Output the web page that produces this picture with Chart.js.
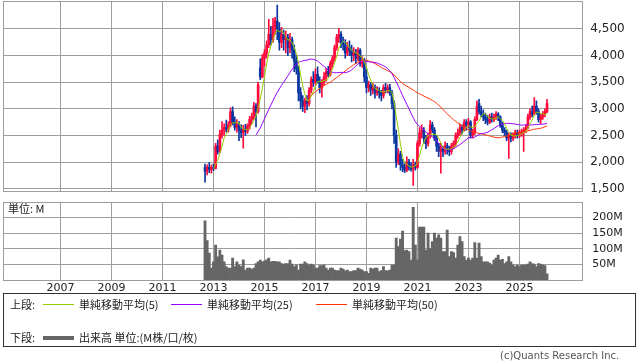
<!DOCTYPE html>
<html><head><meta charset="utf-8">
<script src="https://cdn.jsdelivr.net/npm/chart.js@4/dist/chart.umd.min.js"></script>
<style>
html,body{margin:0;padding:0;background:#fff;}
#wrap{position:relative;width:638px;height:362px;overflow:hidden;background:#fff;font-family:"DejaVu Sans","Noto Sans CJK JP",sans-serif;color:#222;}
canvas{position:absolute;left:0;}
#price{top:0;}
#vol{top:195px;}
.unit{position:absolute;left:8px;top:202px;font-size:11px;line-height:13px;font-family:"Noto Sans CJK JP","DejaVu Sans",sans-serif;color:#222;}
.legend{position:absolute;left:3px;top:293px;width:633px;height:54px;border:1px solid #333;box-sizing:border-box;font-family:"Noto Sans CJK JP",sans-serif;font-size:11px;color:#222;}
.row{position:absolute;left:0;height:14px;line-height:14px;white-space:nowrap;}
.row span{position:absolute;top:0;}
.ln{position:absolute;height:1px;}
.copy{position:absolute;left:500px;top:350px;font-size:10px;color:#555;font-family:"DejaVu Sans",sans-serif;}
</style></head>
<body><div id="wrap">
<canvas id="price" width="638" height="195"></canvas>
<canvas id="vol" width="638" height="100"></canvas>
<div class="unit">単位: M</div>
<div class="legend">
  <div class="row" style="top:3px;width:630px">
    <span style="left:6px">上段:</span>
    <div class="ln" style="left:39px;width:31px;top:7px;background:#99cc00"></div>
    <span style="left:75px">単純移動平均(5)</span>
    <div class="ln" style="left:167px;width:31px;top:7px;background:#9900ff"></div>
    <span style="left:203px">単純移動平均(25)</span>
    <div class="ln" style="left:312px;width:31px;top:7px;background:#ff3300"></div>
    <span style="left:348px">単純移動平均(50)</span>
  </div>
  <div class="row" style="top:36px;width:630px">
    <span style="left:6px">下段:</span>
    <div class="ln" style="left:39px;width:31px;top:6px;height:4px;background:#666"></div>
    <span style="left:75px">出来高 単位:(M株/口/枚)</span>
  </div>
</div>
<div class="copy">(c)Quants Research Inc.</div>
</div>
<script>
// ---- Data (monthly, first bar = 2012-09) ----
const firstYear = 2012, firstMonth = 9;
const opens  = [1900,1830,1900,1860,1900,1880,2300,2200,2520,2600,2650,2620,2700,2950,2760,2650,2700,2600,2550,2620,2580,2680,2800,2850,3050,2950,3770,3600,3950,4050,
  4200,4400,4300,4550,4650,4500,4250,4400,4300,4350,4150,4300,4100,3900,3750,3300,3150,3050,3150,3100,3350,3550,3500,3650,3500,3400,3500,3600,3700,3650,
  3850,3950,4150,4350,4400,4250,4200,4050,4150,4100,4000,4050,3950,4100,3850,3900,3600,3400,3450,3350,3400,3300,3350,3300,3250,3400,3350,3400,3300,3100,
  2500,2000,2150,1950,1900,1850,2000,1900,1870,1950,1900,2350,2550,2600,2450,2350,2500,2700,2600,2450,2300,2200,2250,2200,2300,2250,2200,2300,2350,2500,
  2550,2650,2600,2750,2700,2750,2500,2550,2800,3100,2950,2900,2850,2800,2750,2850,2800,2850,2900,2850,2700,2600,2550,2450,2500,2450,2500,2550,2500,2530,
  2560,2600,2650,2850,2950,2900,3050,2950,2800,2850,2900,2950];
const highs  = [1960,1950,1990,1950,1960,2350,2420,2600,2760,2720,2790,2760,3020,3040,2850,2800,2760,2700,2690,2710,2720,2860,2920,3120,3100,3500,3940,4020,4120,4280,
  4680,4550,4700,4720,4950,4620,4530,4480,4460,4400,4420,4350,4200,4000,3800,3400,3250,3200,3250,3400,3600,3700,3750,3790,3600,3550,3680,3760,3800,3900,
  4000,4200,4400,4510,4450,4350,4300,4250,4280,4200,4150,4120,4150,4130,3980,3950,3750,3520,3500,3480,3450,3420,3400,3350,3450,3480,3450,3460,3350,3150,
  2600,2250,2200,2050,2000,2100,2050,1990,2050,2000,2400,2650,2700,2650,2500,2550,2780,2750,2650,2500,2350,2350,2300,2380,2350,2300,2350,2400,2550,2620,
  2720,2700,2800,2800,2820,2780,2620,2850,3150,3180,3050,2980,2920,2880,2900,2920,2900,2950,2930,2870,2750,2650,2600,2550,2550,2550,2600,2600,2600,2620,
  2650,2700,2900,3000,3050,3210,3150,3000,2900,2950,3000,3180];
const lows   = [1620,1760,1800,1790,1840,1870,2150,2180,2450,2500,2560,2560,2660,2700,2600,2560,2400,2460,2260,2500,2540,2620,2720,2800,2660,2920,3550,3580,3800,3950,
  4150,4200,4250,4400,4300,4100,4150,4100,4050,4000,4050,3950,3700,3650,3150,3000,2950,2930,2980,3050,3300,3420,3450,3480,3300,3220,3450,3520,3600,3620,
  3780,3900,4100,4250,4150,4100,3950,4000,4000,3880,3900,3850,3900,3800,3780,3500,3300,3320,3250,3280,3200,3250,3200,3150,3200,3300,3300,3250,3000,2350,
  1900,1950,1850,1820,1800,1820,1850,1830,1560,1850,1880,2300,2450,2350,2250,2300,2450,2550,2400,2200,2100,1790,2100,2150,2150,2120,2150,2250,2300,2450,
  2500,2530,2580,2600,2650,2450,2450,2520,2780,2900,2850,2780,2720,2700,2720,2750,2760,2800,2780,2650,2550,2500,2400,2070,2380,2400,2450,2450,2460,2480,
  2200,2550,2620,2800,2850,2880,2900,2750,2720,2800,2850,2930];
const closes = [1830,1900,1860,1900,1880,2300,2200,2520,2600,2650,2620,2700,2950,2760,2650,2700,2600,2550,2620,2580,2680,2800,2850,3050,2950,3450,3600,3950,4050,4200,
  4400,4300,4550,4650,4500,4250,4400,4300,4350,4150,4300,4100,3900,3750,3300,3150,3050,3150,3100,3350,3550,3500,3650,3500,3400,3500,3600,3700,3650,3850,
  3950,4150,4350,4400,4250,4200,4050,4150,4100,4000,4050,3950,4100,3850,3900,3600,3400,3450,3350,3400,3300,3350,3300,3250,3400,3350,3400,3300,3100,2500,
  2000,2150,1950,1900,1850,2000,1900,1870,1950,1900,2350,2550,2600,2450,2350,2500,2700,2600,2450,2300,2200,2250,2200,2300,2250,2200,2300,2350,2500,2550,
  2650,2600,2750,2700,2750,2500,2550,2800,3050,2950,2900,2850,2800,2750,2850,2800,2850,2900,2850,2700,2600,2550,2450,2500,2450,2500,2550,2500,2550,2560,
  2600,2650,2850,2950,2900,3050,2950,2800,2850,2900,2950,3100];
const volumes = [190,126,86,38,58,112,74,96,80,58,43,38,38,70,43,58,48,43,65,32,38,38,35,38,53,58,64,58,61,65,
  70,58,60,60,58,58,53,51,53,53,64,51,43,48,32,51,51,58,53,48,51,48,38,38,46,46,48,38,32,38,
  38,32,30,30,38,35,29,32,27,27,30,30,38,35,32,27,27,21,38,35,38,38,27,30,43,30,29,32,48,48,
  134,107,131,157,94,96,91,64,233,112,65,170,170,170,96,150,101,123,150,134,145,134,91,91,160,75,91,88,70,112,
  139,123,75,64,70,64,70,120,70,118,75,58,58,58,54,48,64,70,80,64,66,53,58,75,58,48,43,48,43,48,
  48,48,51,58,53,51,43,53,51,48,46,20];
const priceTicks = [1500,2000,2500,3000,3500,4000,4500];
const volumeTicks = [50,100,150,200];
const yearLabels = ['2007','2009','2011','2013','2015','2017','2019','2021','2023','2025'];
const maPeriods = [5,25,50];

// ---- helpers ----
const UP = '#ff0a3c', DOWN = '#0a36a0', GRID = '#9d9d9d';
const yearPos = y => (parseInt(y,10) - firstYear) * 12 + (1 - firstMonth);
const X_MIN = -95.1, X_MAX = 177.6;
function sma(src, n){
  const out = [];
  for (let i = n - 1; i < src.length; i++){
    let s = 0; for (let k = i - n + 1; k <= i; k++) s += src[k];
    out.push({x: i, y: s / n});
  }
  return out;
}
const bodies = closes.map((c,i)=>({x:i, y:[Math.min(opens[i],c), Math.max(opens[i],c)]}));
const wicks  = closes.map((c,i)=>({x:i, y:[lows[i], highs[i]]}));
const candleColors = closes.map((c,i)=> c >= opens[i] ? UP : DOWN);

const framePlugin = {
  id:'frame',
  afterDraw(chart){
    const {ctx, chartArea:a} = chart;
    ctx.save(); ctx.strokeStyle = GRID; ctx.lineWidth = 1;
    ctx.strokeRect(Math.round(a.left)+0.5, Math.round(a.top)+0.5, Math.round(a.right-a.left), Math.round(a.bottom-a.top));
    ctx.restore();
  }
};
const xTicks = scale => { scale.ticks = yearLabels.map(y=>({value: yearPos(y)})); };
const noPadV = s => { s.paddingTop = 0; s.paddingBottom = 0; };
const noPadH = s => { s.paddingLeft = 0; s.paddingRight = 0; };

new Chart(document.getElementById('price'), {
  type:'bar',
  data:{ datasets:[
    {type:'bar', data:wicks, backgroundColor:candleColors, barThickness:1, grouped:false, order:3},
    {type:'bar', data:bodies, backgroundColor:candleColors, barThickness:2, grouped:false, order:2, minBarLength:1},
    {type:'line', data:sma(closes,maPeriods[0]), borderColor:'#99cc00', borderWidth:1, pointRadius:0, order:1},
    {type:'line', data:sma(closes,maPeriods[1]), borderColor:'#9900ff', borderWidth:1, pointRadius:0, order:1},
    {type:'line', data:sma(closes,maPeriods[2]), borderColor:'#ff3300', borderWidth:1, pointRadius:0, order:1}
  ]},
  options:{
    responsive:false, animation:false, devicePixelRatio:1,
    layout:{padding:{left:3, top:1, right:0, bottom:4.3}},
    plugins:{legend:{display:false}, tooltip:{enabled:false}},
    scales:{
      x:{type:'linear', min:X_MIN, max:X_MAX, offset:false,
         grid:{color:GRID, drawTicks:false, offset:false}, border:{display:false},
         ticks:{display:false}, afterBuildTicks:xTicks, afterFit(s){s.height=0; noPadH(s);}},
      y:{position:'right', min:1462, max:5026,
         grid:{color:GRID, drawTicks:false}, border:{display:false},
         afterBuildTicks(s){ s.ticks = priceTicks.map(v=>({value:v})); },
         afterFit(s){ s.width = 55.7; noPadV(s); },
         ticks:{padding:8, color:'#222', font:{family:'DejaVu Sans', size:12},
                callback:v=>v.toLocaleString('en-US')}}
    }
  },
  plugins:[framePlugin]
});

new Chart(document.getElementById('vol'), {
  type:'bar',
  data:{ datasets:[
    {data: volumes.map((v,i)=>({x:i, y:v})), backgroundColor:'#666666', barThickness:2.2, borderWidth:0}
  ]},
  options:{
    responsive:false, animation:false, devicePixelRatio:1,
    layout:{padding:{left:3, top:7, right:0, bottom:0}},
    plugins:{legend:{display:false}, tooltip:{enabled:false}},
    scales:{
      x:{type:'linear', min:X_MIN, max:X_MAX, offset:false,
         grid:{color:GRID, drawTicks:false, offset:false}, border:{display:false},
         afterBuildTicks:xTicks, afterFit(s){ s.height = 15; noPadH(s); },
         ticks:{padding:2, maxRotation:0, autoSkip:false, color:'#222', font:{family:'DejaVu Sans', size:11},
                callback:(v,i)=>yearLabels[i]}},
      y:{position:'right', min:0, max:250,
         grid:{color:GRID, drawTicks:false}, border:{display:false},
         afterBuildTicks(s){ s.ticks = volumeTicks.map(v=>({value:v})); },
         afterFit(s){ s.width = 55.7; noPadV(s); },
         ticks:{padding:10, color:'#222', font:{family:'DejaVu Sans', size:11},
                callback:v=>v+'M'}}
    }
  },
  plugins:[framePlugin]
});
</script>
</body></html>
